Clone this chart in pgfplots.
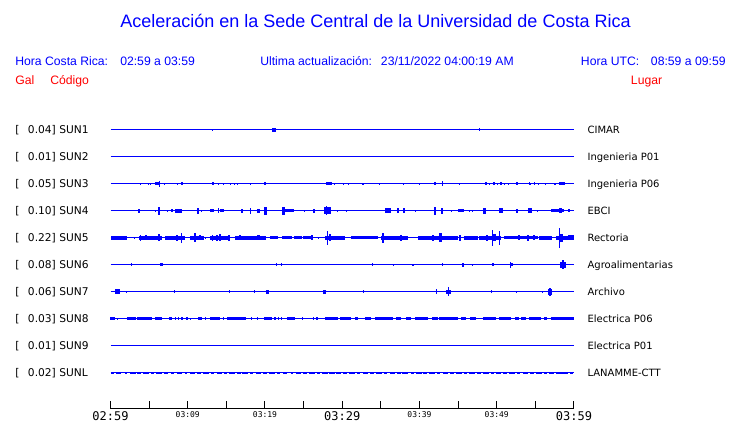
\documentclass[border=0pt]{standalone}
\usepackage{pgfplots}
\pgfplotsset{compat=1.18}
\usepackage{pgfplotstable}
\usepackage{fontspec}
\setmainfont{Liberation Sans}
\newfontfamily\dv{DejaVu Sans}
\newfontfamily\dvm{DejaVu Sans Mono}

\pgfdeclareplotmark{brect}{%
  \pgfpathrectangle{\pgfpoint{-\burstW*0.75pt}{-\burstA*0.75pt}}{\pgfpoint{2*\burstW*0.75pt}{2*\burstA*0.75pt}}%
  \pgfusepathqfill}

\pgfplotsset{burst/.style={only marks, scatter, mark=brect,
  scatter/use mapped color={draw=blue, fill=blue},
  point meta=\thisrow{a},
  visualization depends on={\thisrow{a} \as \burstA},
  visualization depends on={\thisrow{w} \as \burstW}},
  base/.style={blue, line width=0.75pt, mark=none}}

% trace tables: t = minutes after 02:59, a = half height (px), w = half width (px)
\pgfplotstableread{
t a w
13.20 0.8 0.5
21.16 2.3 1.7
47.83 1.5 0.5
}\tA
\pgfplotstableread{
t a w
3.87 1.3 0.7
4.95 1.0 0.5
5.20 1.0 0.5
6.02 1.5 1.7
6.32 3.3 0.5
7.01 0.8 0.5
8.69 0.8 0.5
9.29 1.5 1.0
13.29 1.5 1.2
13.98 1.2 0.6
14.62 0.8 0.5
15.48 1.0 0.5
16.04 1.0 0.5
16.43 0.8 0.5
18.11 1.2 0.5
20.00 1.5 1.0
28.26 1.5 2.7
28.95 1.2 0.5
30.15 0.8 0.5
30.75 0.8 0.5
32.69 1.3 0.6
34.88 0.8 0.5
37.89 1.3 0.6
39.96 1.3 0.6
42.02 1.5 0.8
42.92 2.5 0.5
45.20 1.2 0.5
48.64 1.5 0.8
49.12 1.0 0.5
49.63 1.5 1.0
50.11 1.2 0.5
50.54 1.5 0.6
50.97 0.8 0.5
51.53 0.8 0.5
52.64 1.5 0.8
54.19 1.5 0.6
54.41 1.2 0.5
54.84 1.5 0.6
55.44 1.0 0.5
56.26 1.0 0.5
57.42 1.2 0.5
57.67 1.2 0.5
58.45 1.5 2.8
}\tC
\pgfplotstableread{
t a w
3.66 2.3 1.0
5.81 0.8 0.5
6.32 4.0 1.0
7.35 0.8 0.5
7.96 1.5 0.7
8.86 1.8 3.5
11.31 3.0 1.2
11.83 0.8 0.5
13.12 1.5 2.0
13.98 2.5 0.8
14.41 1.5 1.8
16.99 2.0 1.2
18.15 3.0 0.6
19.18 2.0 1.2
20.04 4.0 1.2
22.37 4.0 1.5
23.23 1.5 4.5
25.16 0.8 0.5
26.32 2.0 1.2
28.09 3.5 3.5
27.96 4.5 0.8
29.33 0.8 0.5
30.49 0.8 0.5
35.87 2.5 3.0
37.20 2.5 1.0
38.02 2.5 1.3
39.53 0.8 0.5
42.02 4.0 1.2
42.92 3.0 1.2
44.09 1.0 0.5
45.38 1.5 3.3
46.41 1.0 0.5
46.88 1.0 0.5
48.47 3.0 1.5
50.54 2.5 1.7
52.60 2.0 1.2
54.32 2.5 2.0
55.27 0.8 0.5
57.85 1.5 6.3
58.28 2.5 1.5
59.35 1.5 0.8
}\tD
\pgfplotstableread{
t a w
1.08 1.7 8.3
3.10 1.0 0.7
5.16 1.7 11.7
3.87 3.0 0.7
4.60 2.5 0.7
6.24 3.5 0.8
8.39 1.7 10.0
8.60 3.0 1.0
9.16 5.0 0.6
11.18 1.7 6.7
10.97 4.5 1.0
11.61 2.5 0.7
12.26 1.0 0.5
14.11 1.7 9.5
13.20 3.0 0.7
13.76 3.0 1.0
14.19 3.5 1.0
15.35 3.0 0.7
18.11 1.7 15.3
16.77 2.5 1.0
19.14 2.5 1.3
21.20 1.5 4.0
22.80 1.5 5.0
24.21 1.5 4.0
25.59 1.5 5.0
26.02 2.5 1.0
26.88 1.0 0.5
29.07 1.7 9.7
28.09 7.0 0.6
28.39 3.5 1.0
32.90 1.5 13.3
35.27 5.0 0.6
36.77 1.7 13.3
37.63 3.0 1.0
42.36 1.7 20.0
41.72 3.0 1.2
42.71 4.5 1.2
45.29 3.0 1.0
46.67 1.7 6.7
49.16 1.7 10.8
48.73 3.0 1.2
49.46 8.0 0.6
50.32 7.0 0.6
49.68 3.5 1.5
53.12 1.5 16.7
52.82 2.5 1.0
54.06 3.0 1.0
54.84 2.5 1.0
56.34 1.7 6.7
58.84 2.0 9.2
58.15 10.0 0.6
58.37 4.0 1.5
59.57 2.5 3.0
}\tE
\pgfplotstableread{
t a w
2.67 1.5 0.5
6.54 1.5 1.5
21.51 1.5 0.5
22.15 1.5 0.5
33.98 1.5 0.5
36.60 0.8 0.5
39.10 1.3 1.0
42.92 1.5 0.5
45.68 1.8 1.0
46.80 0.8 0.5
49.50 1.5 1.0
51.83 3.0 0.6
51.90 1.5 1.2
58.58 3.0 3.0
58.58 4.5 1.2
}\tF
\pgfplotstableread{
t a w
0.95 2.5 2.5
2.06 1.2 0.5
8.30 1.5 0.5
15.44 1.5 0.6
18.67 1.5 0.6
20.30 2.0 1.2
27.74 2.0 1.5
32.73 1.5 0.5
42.19 2.5 0.6
43.74 2.0 2.8
43.78 4.5 0.7
49.37 1.5 0.6
52.60 0.8 0.5
55.96 0.8 0.5
56.95 3.0 2.0
56.95 4.0 1.0
}\tG
\pgfplotstableread{
t a w
0.30 1.5 2.5
0.86 0.8 0.5
2.67 1.5 4.5
4.43 1.5 7.5
6.19 1.5 3.7
7.74 1.5 1.7
8.39 1.5 0.7
8.82 1.5 0.7
9.25 1.5 0.7
9.89 1.5 0.7
10.32 1.0 0.5
11.57 1.5 2.0
12.26 1.5 0.7
13.55 1.5 5.0
14.62 1.5 0.7
16.26 1.5 9.5
18.28 1.5 0.7
19.05 1.5 0.7
20.39 1.5 3.7
21.29 1.5 0.7
21.72 1.5 0.7
22.15 1.5 0.7
23.31 1.5 4.0
24.86 1.5 0.7
26.24 1.5 0.7
26.75 1.5 0.7
28.60 1.5 6.7
30.41 1.5 5.8
31.83 1.5 1.7
33.33 1.5 3.3
35.40 1.5 9.2
37.29 1.5 2.5
38.58 1.5 2.5
40.26 1.5 6.3
42.02 1.5 2.8
43.74 1.5 9.2
45.72 1.5 2.5
46.92 1.5 2.8
49.03 1.5 6.7
51.05 1.5 5.8
52.60 1.5 2.2
53.42 1.5 2.5
54.93 1.5 5.8
56.34 1.5 1.7
58.49 1.5 11.7
}\tH
\pgfplotstableread{
t a w
0.30 1.0 1.5
1.10 1.0 2.5
2.00 0.8 1.2
2.85 1.0 3.0
3.75 1.0 2.0
4.60 1.0 2.8
5.40 1.0 1.5
6.30 1.0 3.0
7.15 1.0 2.2
8.05 0.8 1.5
8.90 1.0 2.5
9.80 0.8 1.2
10.60 1.0 2.8
11.45 1.0 1.8
12.30 1.0 3.0
13.20 0.8 1.5
14.05 1.0 2.5
14.90 0.8 1.5
15.70 1.0 2.8
16.60 1.0 2.0
17.45 1.0 3.0
18.30 0.8 1.5
19.15 1.0 2.5
20.00 1.0 2.2
20.90 1.0 3.0
21.75 0.8 1.5
22.60 1.0 2.0
23.50 0.8 1.2
24.35 1.0 2.8
25.20 1.0 2.0
26.05 1.0 3.0
26.95 0.8 1.5
27.80 1.3 3.0
28.65 1.3 3.0
29.50 1.0 2.5
30.40 1.0 2.0
31.25 1.0 3.0
32.10 0.8 1.5
33.00 1.0 2.8
33.85 1.0 2.2
34.70 1.0 3.0
35.55 0.8 1.5
36.45 1.0 2.5
37.30 1.0 2.0
38.15 1.0 3.0
39.05 0.8 1.5
39.90 1.0 2.8
40.75 1.0 2.0
41.60 1.0 3.0
42.50 0.8 1.5
43.35 1.0 2.5
44.20 1.0 2.2
45.10 1.0 3.0
45.95 0.8 1.5
46.80 1.0 2.8
47.65 1.0 2.0
48.55 1.0 3.0
49.40 0.8 1.5
50.25 1.0 2.5
51.10 1.0 2.2
52.00 1.0 3.0
52.85 0.8 1.5
53.70 1.0 2.8
54.60 1.0 2.0
55.45 1.0 3.0
56.30 0.8 1.5
57.15 1.0 2.5
58.05 1.0 2.8
58.90 1.0 3.0
59.70 1.0 1.5
}\tJ

\begin{document}
\begin{tikzpicture}[x=0.75pt, y=-0.75pt]
\path[use as bounding box] (0,0) rectangle (740,423);

% title and header
\node[anchor=base, text=blue, font=\fontsize{13.5}{16}\selectfont, inner sep=0pt] at (375.5,27.5)
  {Aceleración en la Sede Central de la Universidad de Costa Rica};
\begin{scope}[every node/.style={anchor=base west, inner sep=0pt, font=\fontsize{9.15}{11}\selectfont}]
\node[text=blue] at (15,65.3) {Hora Costa Rica:};
\node[text=blue] at (120,65.3) {02:59 a 03:59};
\node[text=blue] at (260,65.3) {Ultima actualización:};
\node[text=blue] at (380.7,65.3) {23/11/2022 04:00:19 AM};
\node[text=blue] at (580.7,65.3) {Hora UTC:};
\node[text=blue] at (650.7,65.3) {08:59 a 09:59};
\node[text=red] at (15,85) {Gal};
\node[text=red] at (50,85) {Código};
\node[text=red] at (630.7,85) {Lugar};
\end{scope}

% station labels
\begin{scope}[every node/.style={anchor=base west, inner sep=0pt, font=\dv\fontsize{8}{10}\selectfont}]
\foreach \yy/\val/\code in {134/0.04/SUN1, 161/0.01/SUN2, 188/0.05/SUN3, 215/0.10/SUN4, 242/0.22/SUN5, 269/0.08/SUN6, 296/0.06/SUN7, 323/0.03/SUN8, 350/0.01/SUN9, 377/0.02/SUNL}{
  \node at (15,\yy) {[};
  \node at (27.7,\yy) {\val] \code};
}
\end{scope}
\begin{scope}[every node/.style={anchor=base west, inner sep=0pt, font=\dv\fontsize{7.5}{9}\selectfont}]
\foreach \yy/\name in {134/CIMAR, 161/Ingenieria P01, 188/Ingenieria P06, 215/EBCI, 242/Rectoria, 269/Agroalimentarias, 296/Archivo, 323/Electrica P06, 350/Electrica P01, 377/LANAMME-CTT}{
  \node at (587.3,\yy) {\name};
}
\end{scope}

\begin{axis}[
  at={(82.875pt,-306.75pt)}, anchor=south west,
  scale only axis, width=347.625pt, height=225pt,
  xmin=0, xmax=60, ymin=0, ymax=300,
  axis x line*=bottom, axis y line=none,
  x axis line style={black, line width=0.75pt},
  clip=false,
  point meta min=0, point meta max=10,
  xtick={0,5,...,60},
  xticklabels={{\fontsize{9}{9}\selectfont 02:59},{},{\fontsize{6}{6}\selectfont 03:09},{},{\fontsize{6}{6}\selectfont 03:19},{},{\fontsize{9}{9}\selectfont 03:29},{},{\fontsize{6}{6}\selectfont 03:39},{},{\fontsize{6}{6}\selectfont 03:49},{},{\fontsize{9}{9}\selectfont 03:59}},
  xticklabel style={font=\dvm, inner sep=2pt, text=black},
  tick align=inside, major tick length=6pt,
  every tick/.style={black, line width=0.75pt},
  ytick=\empty,
]
% baselines
\addplot[base] coordinates {(0,279) (60,279)};
\addplot[base] coordinates {(0,252) (60,252)};
\addplot[base] coordinates {(0,225) (60,225)};
\addplot[base] coordinates {(0,198) (60,198)};
\addplot[base] coordinates {(0,171) (60,171)};
\addplot[base] coordinates {(0,144) (60,144)};
\addplot[base] coordinates {(0,117) (60,117)};
\addplot[base] coordinates {(0,90) (60,90)};
\addplot[base] coordinates {(0,63) (60,63)};
\addplot[base] coordinates {(0,36) (60,36)};
% bursts
\addplot[burst] table[x=t, y expr=279] {\tA};
\addplot[burst] table[x=t, y expr=225] {\tC};
\addplot[burst] table[x=t, y expr=198] {\tD};
\addplot[burst] table[x=t, y expr=171] {\tE};
\addplot[burst] table[x=t, y expr=144] {\tF};
\addplot[burst] table[x=t, y expr=117] {\tG};
\addplot[burst] table[x=t, y expr=90] {\tH};
\addplot[burst] table[x=t, y expr=36] {\tJ};
\end{axis}
\end{tikzpicture}
\end{document}
